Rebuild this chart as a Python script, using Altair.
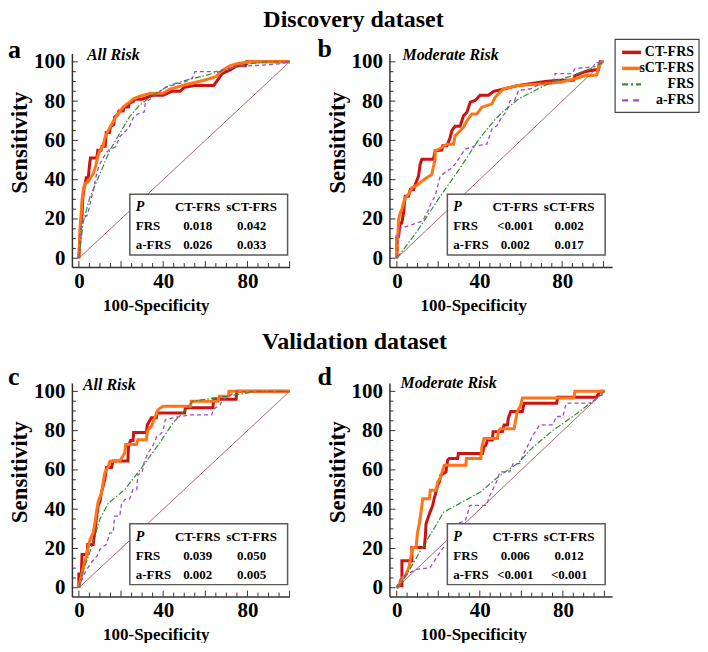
import altair as alt
import pandas as pd

FONT = "Liberation Serif"
AX = "#333333"

SERIES = ["CT-FRS", "sCT-FRS", "FRS", "a-FRS"]
COLORS = ["#CC1212", "#FF7417", "#2F8F2F", "#9A4CC8"]
STROKE_W = [3.0, 3.0, 1.2, 1.3]
DASHES = [None, None, [6, 2, 1.5, 2], [4, 3]]
DIAG_COLOR = "#B5656D"

Y_LABELS = [0, 20, 40, 60, 80, 100]
X_LABELS = [0, 40, 80]
MAJOR_TICKS = [0, 20, 40, 60, 80, 100]
MINOR_TICKS = [5, 10, 15, 25, 30, 35, 45, 50, 55, 65, 70, 75, 85, 90, 95]

TABLE_HEAD = ["P", "CT-FRS", "sCT-FRS"]
TABLE_ROWS = ["FRS", "a-FRS"]

# ---------------- Discovery, All Risk (a) ----------------
a_ct_x = [0, 0.5, 0.8, 1.5, 1.8, 2.5, 3.0, 3.5, 4.5, 5.0, 5.5, 8.5, 9.0, 10.5, 11.0, 12.5, 13.0, 14.5, 15.0, 16.5,
          17.0, 18.5, 19.0, 21.0, 21.5, 23.5, 24.0, 26.0, 26.5, 30.0, 35.0, 40.0, 44.0, 48.0, 50.0, 55.0, 64.0, 66.0,
          68.0, 72.0, 75.0, 79.0, 79.5, 100]
a_ct_y = [0, 10, 17, 22, 30, 36, 38, 41, 41, 47, 51, 51, 55, 55, 57, 57, 64, 64, 67, 68,
          72, 73, 75, 75, 77, 77, 79, 80, 81, 81, 83, 83, 85, 85, 87, 88, 88, 91,
          94, 96, 98, 98, 100, 100]
a_sct_x = [0, 0.3, 0.7, 1.2, 1.5, 2.0, 2.8, 4.4, 5.5, 6.8, 8.0, 9.0, 10.0, 11.5, 12.3, 13.9, 15.5, 17.0, 18.6, 21.0,
           23.4, 25.7, 28.9, 34.0, 40.0, 43.0, 51.0, 59.0, 65.0, 68.0, 71.5, 75.0, 81.0, 100]
a_sct_y = [0, 8, 18, 24, 30, 34, 38, 39, 41, 43, 47, 52, 55, 57, 61, 65, 68, 71, 73.5, 77,
           79, 81, 82.5, 84, 84, 86, 88.5, 90.5, 92.5, 95.5, 98, 99, 100, 100]
a_frs_x = [0, 2, 5.2, 10, 14.7, 19.4, 24, 28.9, 35, 43, 51, 60, 66.7, 74.6, 84, 90, 100]
a_frs_y = [0, 18, 31, 43, 55, 63.5, 72, 78, 83, 88, 90.7, 93, 95, 97.5, 99.5, 100, 100]
a_afrs_x = [0, 0.5, 1.2, 2.0, 4.0, 5.0, 6.0, 7.0, 8.0, 9.5, 11.8, 14.0, 17.4, 19.5, 21.5, 24.0, 26.0, 29.0, 31.0, 31.5,
            35.0, 41.0, 51.0, 54.0, 55.0, 65.0, 70.0, 78.0, 90.0, 95.0, 100]
a_afrs_y = [0, 11, 17.7, 20, 22, 26, 31, 35, 41, 47, 51.6, 55, 56.7, 62, 64, 67, 72, 74, 74.5, 79,
            82, 87, 90, 92, 95, 95, 96.5, 97.8, 98.5, 99, 100]
a_table = [["0.018", "0.042"], ["0.026", "0.033"]]

# ---------------- Discovery, Moderate Risk (b) ----------------
b_ct_x = [0, 0, 0.8, 1.6, 2.4, 3.2, 4.0, 5.6, 6.5, 8.1, 8.9, 10.5, 11.3, 12.1, 17.7, 18.5, 21.8, 22.2, 24.2, 25.8,
          26.6, 28.2, 30.6, 32.3, 33.9, 35.5, 37.9, 40.3, 44.4, 46.8, 49.2, 58.9, 71.8, 78.2, 85.5, 86.3, 91.1, 96.0,
          97.6, 98.4, 100]
b_ct_y = [0, 11, 11, 18, 18, 23, 31.6, 31.6, 35, 35, 37.6, 42, 48, 50.4, 50.4, 54.7, 55, 57.3, 57.3, 61.5,
          65, 67.2, 67.2, 72.6, 74.3, 79.5, 80.3, 83, 83, 85, 85.5, 88, 90, 90.6, 90.6, 93, 95, 96,
          96, 100, 100]
b_sct_x = [0, 0.8, 1.6, 2.4, 3.2, 4.0, 5.6, 7.3, 8.9, 10.5, 12.1, 14.5, 16.9, 18.5, 18.6, 20.2, 21.8, 24.2, 27.4, 28.2,
           29.8, 32.3, 33.9, 36.3, 38.7, 41.1, 46.0, 47.6, 50.0, 51.6, 58.9, 71.8, 79.8, 86.3, 91.1, 94.4, 96.8, 97.6,
           99.2, 100]
b_sct_y = [0, 19.6, 23, 24.8, 28, 30.8, 32.5, 35.9, 36.7, 37.6, 39.3, 41, 42.7, 50.4, 54.7, 55.5, 56.4, 58, 58, 62.4,
           64, 66.7, 70, 73.5, 73.5, 76.9, 78.6, 82, 84.6, 86.3, 88, 88.9, 89.7, 91.4, 93, 93, 93.3, 97.4,
           100, 100]
b_frs_x = [0, 10, 20, 30, 40, 47, 51, 59, 67, 75, 85, 94, 100]
b_frs_y = [0, 14, 30, 45, 61, 70, 74.3, 81.2, 85.5, 89.7, 93, 96.6, 100]
b_afrs_x = [0, 0.8, 1.6, 4, 7, 12, 13, 15, 16.5, 18.5, 21, 26.6, 28.2, 33, 37.9, 43.5, 46, 48.4, 50.8, 53.2,
            54.8, 57, 58.9, 65, 70, 75.8, 76.6, 84.7, 86.3, 95, 96, 100]
b_afrs_y = [0, 11, 15.4, 16, 17, 18.8, 20, 24, 28, 31.6, 41.9, 46, 48, 55.5, 57.3, 58, 65.8, 67.5, 71.8, 75,
            80.3, 80.3, 85.5, 86.3, 89, 89, 94, 94, 96.6, 97.4, 99.5, 100]
b_table = [["<0.001", "0.002"], ["0.002", "0.017"]]

# ---------------- Validation, All Risk (c) ----------------
c_ct_x = [0, 0, 1.2, 1.5, 3.9, 4.2, 6.8, 7.5, 8.3, 9.1, 10.0, 10.7, 11.5, 12.3, 13.1, 15.5, 16.2, 23.3, 23.5, 24.5,
          25.7, 26.0, 32.0, 32.5, 34.4, 36.8, 37.0, 50.2, 50.5, 63.6, 64.0, 74.6, 75.0, 100]
c_ct_y = [0, 7, 7, 17, 17, 22, 22, 28, 35, 41.6, 44, 48.4, 51.7, 55.2, 61.2, 61.2, 64.6, 64.6, 71.5, 75,
          75, 79, 79, 83, 86.6, 86.6, 89, 89, 91.6, 91.6, 96, 96, 100, 100]
c_sct_x = [0, 1, 2.5, 3.5, 4.5, 5.3, 6.8, 7.6, 8.4, 9.2, 10.7, 11.5, 12.3, 13.1, 13.9, 14.7, 19.4, 21.8, 22.2, 27.3,
           28, 32, 32.5, 34.4, 36, 37.6, 39.9, 53, 53.3, 66, 66.7, 71, 71.2, 100]
c_sct_y = [0, 5, 12, 16, 21, 24.6, 28, 33, 39, 44, 48.3, 53.4, 58.5, 60.2, 61.5, 64.4, 64.4, 68.7, 72.9, 72.9,
           75.4, 75.4, 79.7, 82.2, 86.5, 90.7, 92.4, 92.4, 95, 95, 97.5, 97.5, 100, 100]
c_frs_x = [0, 2.8, 5.2, 7.6, 10, 13.9, 21.8, 29.7, 38.3, 44.7, 50, 54, 60, 70, 85, 100]
c_frs_y = [0, 11, 18, 26.3, 35, 43, 50, 61, 73.7, 84, 90, 95, 96, 97.5, 100, 100]
c_afrs_x = [0, 1, 3.5, 6, 8.5, 10, 11.5, 13, 14.7, 16.3, 17, 19.4, 20.2, 21.8, 24, 25.7, 27.5, 28, 30, 31,
            33, 35, 37, 38.5, 40, 41, 47, 53, 63, 64, 67, 68, 71, 74.6, 100]
c_afrs_y = [0, 3, 9, 13, 16, 19.5, 21, 22, 28, 28, 36.5, 36.5, 42.4, 45, 45, 50, 50, 57.6, 58.5, 64,
            69, 72, 77, 78, 80, 85.5, 87, 88, 88, 91, 93, 95.5, 97.5, 100, 100]
c_table = [["0.039", "0.050"], ["0.002", "0.005"]]

# ---------------- Validation, Moderate Risk (d) ----------------
d_ct_x = [0, 1.2, 2.5, 2.5, 7.3, 7.3, 13.3, 13.8, 14.1, 14.9, 16, 17.3, 18, 18.9, 19.7, 20.5, 21.3, 23.7, 24.5, 25.3,
          29.3, 29.7, 41.3, 42, 42.9, 43.7, 46, 46.4, 50.9, 51.7, 53.3, 53.7, 54.9, 60.5, 61.3, 77, 77.5, 96, 98, 100]
d_ct_y = [0, 1, 1, 13.7, 13.7, 20.5, 20.5, 26.5, 32.5, 35, 38.4, 41.9, 45.3, 48.7, 52.1, 53.8, 57.3, 59, 65, 65.8,
          65.8, 68.4, 68.4, 71.8, 72.6, 75.2, 75.2, 79.5, 79.5, 82.9, 82.9, 86.3, 89.7, 89.7, 94, 94, 97, 97, 100, 100]
d_sct_x = [0, 1, 2, 4.5, 6, 6.9, 7.7, 9.3, 10, 10.9, 11.7, 12.5, 15.7, 16.2, 18.9, 19.7, 21, 22.9, 33.3, 33.5,
           40.5, 41, 42, 48.5, 49, 50, 56.5, 57.3, 58, 59.7, 60.5, 85.3, 85.8, 100]
d_sct_y = [0, 1, 4, 6.8, 11, 16.2, 20.5, 20.5, 28, 33, 38.4, 45.3, 45.3, 49.6, 49.6, 53.8, 56, 62.4, 62.4, 65.8,
           65.8, 71.8, 76, 76, 80, 81, 81, 85.4, 89.7, 93, 96.6, 96.6, 100, 100]
d_frs_x = [0, 1, 4.5, 10.9, 17.3, 22.6, 40.3, 47.7, 59, 65, 75, 84.5, 95.7, 100]
d_frs_y = [0, 1, 6, 17.9, 29, 38.5, 48.7, 55.5, 64, 71, 80, 87, 96, 100]
d_afrs_x = [0, 0.8, 1.8, 5, 9.6, 16, 17.6, 19.2, 20.8, 22.4, 25, 27.2, 28, 30, 33, 35.2, 43.2, 44.8, 48, 49.6,
            54.4, 56, 59.2, 60.8, 62.4, 65.6, 68.8, 75.2, 76.8, 80, 81.6, 94.4, 96.8, 99.2, 100]
d_afrs_y = [0, 2.6, 4.3, 7, 9.4, 10.2, 12.8, 15.4, 17.9, 20.5, 21, 24.8, 30, 33, 34, 41.9, 41.9, 47, 53.8, 59,
            59, 63.2, 63.2, 67.5, 70.9, 77.7, 82.9, 82.9, 87.2, 87.2, 94, 94, 97.4, 98.3, 100]
d_table = [["0.006", "0.012"], ["<0.001", "<0.001"]]

# ---------------- layout constants ----------------
H = 214
YDOM = [-4.5, 104.3]
BOX = (58, 216, 141, 202)   # x0, x1, y0, y1 (pixels inside plot)
COLX = (6, 68, 122)
ROWY = (13, 32, 51)

ONE = pd.DataFrame({"k": [0]})


def label(text, px, py, **kw):
    base = dict(font=FONT, fontWeight="bold")
    base.update(kw)
    return alt.Chart(ONE).mark_text(text=text, **base).encode(x=alt.value(px), y=alt.value(py))


def panel(curves, table, letter, letter_pos, subtitle, sub_pos, xdom, W, title=None, legend=False):
    xs = alt.Scale(domain=xdom, nice=False, zero=False)
    ys = alt.Scale(domain=YDOM, nice=False, zero=False)
    xaxis = alt.Axis(values=X_LABELS, title="100-Specificity", ticks=False, tickSize=0, labelPadding=3,
                     labelFontSize=21, titleFontSize=17, titleY=30, titleX=84, titleBaseline="top",
                     domainColor=AX, domainWidth=1.5, labelFlush=False, labelOverlap=False, format="d",
                     grid=False)
    yaxis = alt.Axis(values=Y_LABELS, title="Sensitivity", ticks=False, tickSize=0, labelPadding=7,
                     labelFontSize=21, titleFontSize=23, titleX=-40, titleY=89,
                     domainColor=AX, domainWidth=1.5, labelOverlap=False, format="d", grid=False)
    X = lambda f: alt.X(f"{f}:Q", scale=xs, axis=xaxis)
    Y = lambda f: alt.Y(f"{f}:Q", scale=ys, axis=yaxis)
    layers = []
    diag = pd.DataFrame({"x": [0, 100], "y": [0, 100]})
    layers.append(alt.Chart(diag).mark_line(color=DIAG_COLOR, strokeWidth=1).encode(x=X("x"), y=Y("y")))
    for s, c, w, d in zip(SERIES, COLORS, STROKE_W, DASHES):
        xv, yv = curves[s]
        df = pd.DataFrame({"x": xv, "y": yv, "i": list(range(len(xv)))})
        kw = dict(color=c, strokeWidth=w)
        if d:
            kw["strokeDash"] = d
        layers.append(alt.Chart(df).mark_line(**kw).encode(x=X("x"), y=Y("y"), order="i:Q"))
    # inward ticks
    for vals, ln in ((MAJOR_TICKS, 6), (MINOR_TICKS, 4)):
        tdf = pd.DataFrame({"x": vals, "y": vals})
        layers.append(alt.Chart(tdf).mark_rule(color=AX, strokeWidth=1).encode(
            y=Y("y"), x=alt.value(0), x2=alt.value(ln)))
        layers.append(alt.Chart(tdf).mark_rule(color=AX, strokeWidth=1).encode(
            x=X("x"), y=alt.value(H), y2=alt.value(H - ln)))
    # p-value table
    layers.append(alt.Chart(ONE).mark_rect(fill="white", stroke="#5a5a5a", strokeWidth=1.5).encode(
        x=alt.value(BOX[0]), x2=alt.value(BOX[1]), y=alt.value(BOX[2]), y2=alt.value(BOX[3])))
    layers.append(label(TABLE_HEAD[0], BOX[0] + COLX[0], BOX[2] + ROWY[0], fontSize=14, fontStyle="italic",
                        align="left", baseline="middle"))
    for j, h in enumerate(TABLE_HEAD[1:]):
        layers.append(label(h, BOX[0] + COLX[j + 1], BOX[2] + ROWY[0], fontSize=13, align="center",
                            baseline="middle"))
    for i, row in enumerate(table):
        layers.append(label(TABLE_ROWS[i], BOX[0] + COLX[0], BOX[2] + ROWY[i + 1], fontSize=13, align="left",
                            baseline="middle"))
        for j, v in enumerate(row):
            layers.append(label(v, BOX[0] + COLX[j + 1], BOX[2] + ROWY[i + 1], fontSize=13, align="center",
                                baseline="middle"))
    # letter and subtitle
    layers.append(label(letter, letter_pos[0], letter_pos[1], fontSize=26, align="left", baseline="alphabetic"))
    layers.append(label(subtitle, sub_pos[0], sub_pos[1], fontSize=16, fontStyle="italic", align="left",
                        baseline="middle"))
    if title:
        layers.append(label(title[0], title[1], title[2], fontSize=24, align="center", baseline="alphabetic"))
    if legend:
        lx0, lx1, ly0, ly1 = 226, 310, -14, 59
        layers.append(alt.Chart(ONE).mark_rect(fill="white", stroke="#444444", strokeWidth=1.2).encode(
            x=alt.value(lx0), x2=alt.value(lx1), y=alt.value(ly0), y2=alt.value(ly1)))
        for i, (s, c, w, d) in enumerate(zip(SERIES, COLORS, STROKE_W, DASHES)):
            yy = -1 + i * 16
            kw = dict(color=c, strokeWidth=2.2 if d else 3.5)
            if d:
                kw["strokeDash"] = [6, 3, 2, 3] if s == "FRS" else [6, 5]
            layers.append(alt.Chart(ONE).mark_rule(**kw).encode(
                x=alt.value(lx0 + 7), x2=alt.value(lx0 + 26), y=alt.value(yy)))
            layers.append(label(s, lx1 - 5, yy, fontSize=14, align="right", baseline="middle"))
    return alt.layer(*layers).properties(width=W, height=H)


curves_a = {"CT-FRS": (a_ct_x, a_ct_y), "sCT-FRS": (a_sct_x, a_sct_y), "FRS": (a_frs_x, a_frs_y), "a-FRS": (a_afrs_x, a_afrs_y)}
curves_b = {"CT-FRS": (b_ct_x, b_ct_y), "sCT-FRS": (b_sct_x, b_sct_y), "FRS": (b_frs_x, b_frs_y), "a-FRS": (b_afrs_x, b_afrs_y)}
curves_c = {"CT-FRS": (c_ct_x, c_ct_y), "sCT-FRS": (c_sct_x, c_sct_y), "FRS": (c_frs_x, c_frs_y), "a-FRS": (c_afrs_x, c_afrs_y)}
curves_d = {"CT-FRS": (d_ct_x, d_ct_y), "sCT-FRS": (d_sct_x, d_sct_y), "FRS": (d_frs_x, d_frs_y), "a-FRS": (d_afrs_x, d_afrs_y)}

pa = panel(curves_a, a_table, "a", (-64, 5), "All Risk", (15, 2), [-3.3, 100], 218,
           title=("Discovery dataset", 282, -26))
pb = panel(curves_b, b_table, "b", (-72, 4), "Moderate Risk", (13, 2), [-3.6, 104.2], 223, legend=True)
pc = panel(curves_c, c_table, "c", (-64, 2), "All Risk", (11, 2), [-3.3, 100], 218,
           title=("Validation dataset", 283, -34))
pd_ = panel(curves_d, d_table, "d", (-72, 2), "Moderate Risk", (11, 0), [-3.5, 103.7], 223)

chart = alt.concat(pa, pb, pc, pd_, columns=2, spacing={"row": 116, "column": 100}, bounds="flush")
chart = chart.properties(padding=0)
chart = chart.configure_view(stroke=None).configure_axis(
    grid=False, labelFont=FONT, titleFont=FONT, labelFontWeight="bold", titleFontWeight="bold",
    labelColor="black", titleColor="black")

chart.save("out.html", embed_options={"renderer": "svg", "actions": False})
